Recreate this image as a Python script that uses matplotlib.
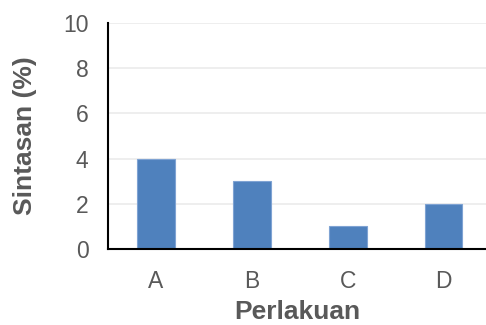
import matplotlib
matplotlib.use("Agg")
import matplotlib.pyplot as plt

categories = ["A", "B", "C", "D"]
values = [4, 3, 1, 2]
yticks = [0, 2, 4, 6, 8, 10]

plt.rcParams['font.family'] = ['Liberation Sans', 'DejaVu Sans']
text_color = "#595959"

fig = plt.figure(figsize=(4.86, 3.25), dpi=100)
ax = fig.add_axes([108 / 486, 1 - 249 / 325, (486 - 108) / 486, (249 - 23) / 325])

x = range(len(categories))
ax.bar(x, values, width=0.39, color="#4F81BD", edgecolor="#7FA3D3", linewidth=0.8, zorder=3)

ax.set_xlim(-0.5, 3.44)
ax.set_ylim(0, 10)
ax.set_yticks(yticks)
ax.set_xticks(list(x))
ax.set_xticklabels(categories)
ax.yaxis.grid(True, color="#EBEBEB", linewidth=1.2, zorder=0)
ax.set_axisbelow(True)

for s in ["top", "right"]:
    ax.spines[s].set_visible(False)
for s in ["left", "bottom"]:
    ax.spines[s].set_color("black")
    ax.spines[s].set_linewidth(1.5)
    ax.spines[s].set_zorder(4)

ax.tick_params(axis="both", length=0, labelsize=16.5, labelcolor=text_color)
ax.tick_params(axis="y", pad=14)
ax.tick_params(axis="x", pad=15)

ax.set_ylabel("Sintasan (%)", fontsize=19, fontweight="bold", color=text_color, labelpad=19)
ax.set_xlabel("Perlakuan", fontsize=19, fontweight="bold", color=text_color, labelpad=5)

fig.savefig("out.png", dpi=100)
